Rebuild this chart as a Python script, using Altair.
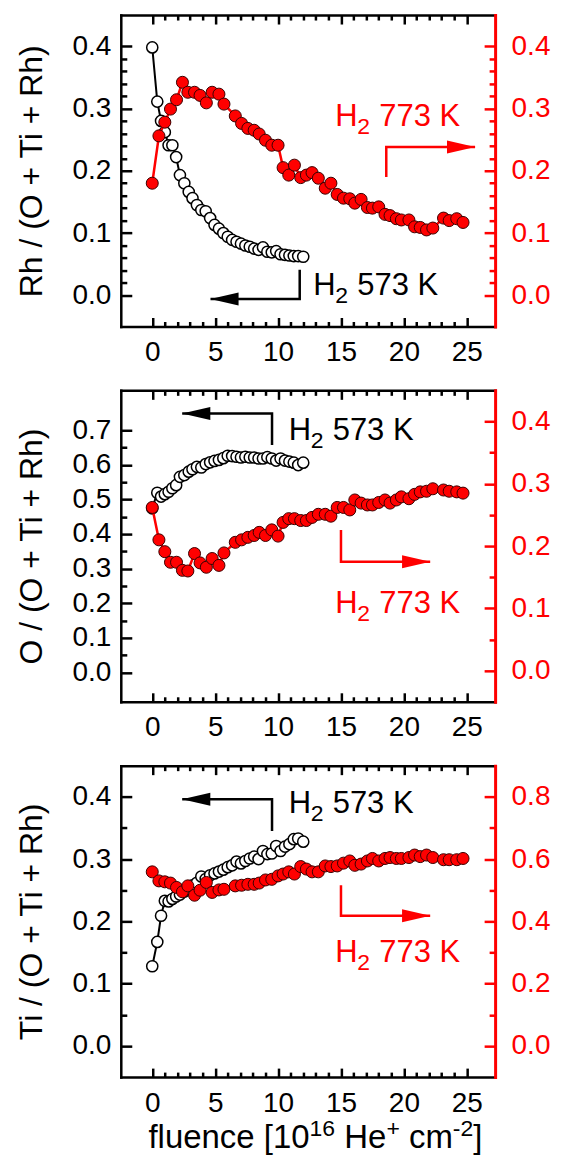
import altair as alt
import pandas as pd

# ---------------- data ----------------
fluence_573 = [0, 0.4, 0.7, 1.0, 1.3, 1.6, 1.9, 2.2, 2.55, 2.9, 3.2, 3.55, 3.9, 4.25,
               4.6, 4.95, 5.3, 5.65, 6.0, 6.35, 6.7, 7.05, 7.4, 7.75, 8.1, 8.45, 8.8,
               9.15, 9.5, 9.85, 10.2, 10.55, 10.9, 11.25, 11.6, 12.0]
rh_573 = [0.398, 0.311, 0.280, 0.262, 0.241, 0.241, 0.222, 0.193, 0.180, 0.166, 0.156,
          0.145, 0.137, 0.135, 0.124, 0.113, 0.107, 0.100, 0.094, 0.089, 0.086, 0.083,
          0.080, 0.078, 0.075, 0.073, 0.077, 0.070, 0.069, 0.071, 0.066, 0.065, 0.064,
          0.063, 0.063, 0.062]
o_573 = [0.474, 0.519, 0.508, 0.515, 0.522, 0.532, 0.541, 0.565, 0.570, 0.580, 0.587,
         0.594, 0.592, 0.602, 0.607, 0.611, 0.614, 0.619, 0.626, 0.625, 0.623, 0.621,
         0.623, 0.621, 0.621, 0.618, 0.618, 0.622, 0.618, 0.612, 0.618, 0.612, 0.609,
         0.606, 0.599, 0.606]
ti_573 = [0.128, 0.167, 0.209, 0.233, 0.232, 0.236, 0.240, 0.243, 0.248, 0.252, 0.258,
          0.262, 0.272, 0.268, 0.274, 0.277, 0.280, 0.283, 0.287, 0.290, 0.296, 0.293,
          0.297, 0.301, 0.304, 0.300, 0.313, 0.308, 0.309, 0.321, 0.313, 0.320, 0.324,
          0.332, 0.333, 0.328]

fluence_773 = [0, 0.53, 1.0, 1.45, 1.93, 2.4, 2.83, 3.36, 3.8, 4.3, 4.76, 5.3, 5.7, 6.6,
               7.1, 7.6, 8.1, 8.5, 9.0, 9.5, 10.0, 10.4, 10.85, 11.3, 11.8, 12.25, 12.7,
               13.2, 13.75, 14.2, 14.7, 15.2, 15.7, 16.1, 16.6, 17.1, 17.5, 18.0, 18.5,
               18.9, 19.4, 19.8, 20.4, 20.85, 21.3, 21.8, 22.3, 23.15, 23.6, 24.2, 24.7]
rh_773 = [0.180, 0.256, 0.278, 0.299, 0.314, 0.342, 0.326, 0.326, 0.321, 0.309, 0.326,
          0.323, 0.307, 0.288, 0.276, 0.268, 0.265, 0.259, 0.249, 0.241, 0.241, 0.205,
          0.193, 0.209, 0.189, 0.193, 0.197, 0.188, 0.172, 0.180, 0.162, 0.156, 0.155,
          0.148, 0.154, 0.141, 0.140, 0.142, 0.130, 0.128, 0.123, 0.121, 0.121, 0.110,
          0.109, 0.105, 0.108, 0.124, 0.120, 0.123, 0.117]
o_773 = [0.262, 0.210, 0.191, 0.174, 0.174, 0.161, 0.160, 0.188, 0.173, 0.166, 0.180,
         0.169, 0.189, 0.206, 0.210, 0.214, 0.217, 0.222, 0.217, 0.226, 0.216, 0.238,
         0.244, 0.244, 0.241, 0.241, 0.246, 0.251, 0.251, 0.248, 0.262, 0.262, 0.258,
         0.274, 0.269, 0.266, 0.266, 0.270, 0.274, 0.269, 0.274, 0.279, 0.276, 0.283,
         0.287, 0.288, 0.292, 0.290, 0.288, 0.287, 0.285]
ti_773 = [0.559, 0.530, 0.527, 0.523, 0.509, 0.495, 0.514, 0.484, 0.500, 0.525, 0.493,
          0.501, 0.503, 0.514, 0.516, 0.519, 0.519, 0.523, 0.533, 0.535, 0.546, 0.552,
          0.559, 0.552, 0.576, 0.568, 0.559, 0.559, 0.578, 0.576, 0.578, 0.587, 0.594,
          0.580, 0.584, 0.594, 0.602, 0.594, 0.602, 0.605, 0.602, 0.602, 0.605, 0.613,
          0.608, 0.613, 0.605, 0.598, 0.598, 0.598, 0.602]

y_titles = ["Rh / (O + Ti + Rh)", "O / (O + Ti + Rh)", "Ti / (O + Ti + Rh)"]
left_domains = [[-0.05, 0.45], [-0.085, 0.815], [-0.05, 0.45]]
right_domains = [[-0.05, 0.45], [-0.05, 0.45], [-0.1, 0.9]]
left_major = [[0, 0.1, 0.2, 0.3, 0.4], [0, 0.1, 0.2, 0.3, 0.4, 0.5, 0.6, 0.7], [0, 0.1, 0.2, 0.3, 0.4]]
left_step = [0.02, 0.05, 0.05]
right_major = [[0, 0.1, 0.2, 0.3, 0.4], [0, 0.1, 0.2, 0.3, 0.4], [0, 0.2, 0.4, 0.6, 0.8]]
right_step = [0.02, 0.05, 0.1]

x_major = [0, 5, 10, 15, 20, 25]
x_minor = [v for v in range(1, 25) if v % 5 != 0]

# annotation anchors (data coords on the left axis)
lbl573_x = [12.8, 10.85, 10.85]
lbl573_y = [0.0, 0.671, 0.374]
arr573_x = [[11.72, 11.72, 4.63], [9.52, 9.52, 2.38], [9.52, 9.52, 2.38]]
arr573_y = [[0.041, -0.006, -0.006], [0.657, 0.748, 0.748], [0.345, 0.396, 0.396]]
lbl773_x = [14.55, 14.55, 14.55]
lbl773_y = [0.2725, 0.171, 0.134]
arr773_x = [[18.6, 18.6, 25.66], [15.0, 15.0, 22.09], [15.0, 15.0, 22.09]]
arr773_y = [[0.190, 0.238, 0.238], [0.4115, 0.320, 0.320], [0.258, 0.209, 0.209]]

# x-axis title pieces: (text, is superscript, space before)
xtitle_parts = ["fluence [10", "16", "He", "+", "cm", "-2", "]"]
xtitle_super = [False, True, False, True, False, True, False]
xtitle_space = [False, False, True, False, True, False, False]

# ---------------- styling ----------------
W, H = 375, 312
XDOM = [-2.5, 27.25]
FONT = "Liberation Sans"
RED = "#ff0000"
LAB = 28
TIT = 32
ANN = 31
MAJ, MIN = 11, 6
XMAJ, XMIN = 9, 5
LW = 2.5


def minors(major, step):
    top = max(major)
    n = int(round(top / step))
    vals = [round(k * step, 4) for k in range(n + 1)]
    return [v for v in vals if all(abs(v - m) > 1e-6 for m in major)]


def sc(dom):
    return alt.Scale(domain=dom, nice=False, zero=False)


def X(axis=None):
    return alt.X("x:Q", scale=sc(XDOM), axis=axis, title=None)


def Y(dom, axis=None, title=None):
    return alt.Y("y:Q", scale=sc(dom), axis=axis, title=title)


def tick_axis(orient, values, size, color, offset, domain=False):
    return alt.Axis(orient=orient, offset=offset, values=values, ticks=True, tickSize=size,
                    tickWidth=2.5, tickColor=color, labels=False, domain=domain,
                    domainColor=color, domainWidth=LW, domainCap="square", grid=False, title=None)


arrow_right = "M-1,-0.46L1,0L-1,0.46Z"
arrow_left = "M1,-0.46L-1,0L1,0.46Z"


def h2_label(x, y, temp, color, dom):
    d = pd.DataFrame({"x": [x], "y": [y]})
    base = alt.Chart(d).encode(x=X(), y=Y(dom))
    return [
        base.mark_text(text="H", font=FONT, fontSize=ANN, align="left", baseline="alphabetic", color=color),
        base.mark_text(text="2", font=FONT, fontSize=23, align="left", baseline="alphabetic", color=color, dx=22, dy=8),
        base.mark_text(text=temp + " K", font=FONT, fontSize=ANN, align="left", baseline="alphabetic", color=color, dx=44),
    ]


def arrow(xs, ys, color, direction, dom):
    d = pd.DataFrame({"x": xs, "y": ys, "o": list(range(len(xs)))})
    stem = alt.Chart(d).mark_line(color=color, strokeWidth=LW).encode(x=X(), y=Y(dom), order="o:Q")
    tip = pd.DataFrame({"x": [xs[-1]], "y": [ys[-1]]})
    head = alt.Chart(tip).mark_point(
        shape=arrow_right if direction == "right" else arrow_left, filled=True, size=800,
        color=color, opacity=1, xOffset=-14 if direction == "right" else 14
    ).encode(x=X(), y=Y(dom))
    return [stem, head]


def x_title_layer():
    one = alt.Data(values=[{"a": 1}])
    big, small = 33, 23
    # advance widths of Liberation Sans (per em)
    adv = {"f": .278, "l": .222, "u": .556, "e": .556, "n": .556, "c": .5, " ": .278,
           "[": .278, "]": .278, "1": .556, "0": .556, "6": .556, "H": .722, "+": .584,
           "m": .833, "-": .333, "2": .556}
    widths, gaps = [], []
    for t, s, sp in zip(xtitle_parts, xtitle_super, xtitle_space):
        widths.append(sum(adv[ch] for ch in t) * (small if s else big))
        gaps.append(adv[" "] * big if sp else 0)
    total = sum(widths) + sum(gaps)
    px = 195 - total / 2
    out = []
    for t, s, w, g in zip(xtitle_parts, xtitle_super, widths, gaps):
        px += g
        out.append(alt.Chart(one).mark_text(text=t, font=FONT, fontSize=small if s else big,
                                            align="left", baseline="alphabetic", color="black",
                                            dy=-12 if s else 0)
                   .encode(x=alt.value(px), y=alt.value(H + 71)))
        px += w
    return alt.layer(*out)


def panel(i, y573, y773, with_xtitle=False):
    ld, rd = left_domains[i], right_domains[i]
    lmaj, rmaj = left_major[i], right_major[i]
    lmin, rmin = minors(lmaj, left_step[i]), minors(rmaj, right_step[i])
    df_b = pd.DataFrame({"x": fluence_573, "y": y573})
    df_r = pd.DataFrame({"x": fluence_773, "y": y773})

    left_axis = alt.Axis(orient="left", values=lmaj, format=".1f", ticks=False, domain=True,
                         domainColor="black", domainWidth=LW, domainCap="square",
                         labelPadding=10, labelFontSize=LAB, labelColor="black",
                         labelOverlap=False, titleFontSize=TIT, titleFontWeight="normal",
                         titleColor="black", titlePadding=24, grid=False)
    bottom_axis = alt.Axis(orient="bottom", values=x_major, format="d", ticks=False, domain=True,
                           domainColor="black", domainWidth=LW, domainCap="square",
                           labelPadding=12, labelFontSize=LAB, labelColor="black",
                           labelFlush=False, labelOverlap=False, grid=False, title=None)
    right_axis = alt.Axis(orient="right", values=rmaj, format=".1f", ticks=False, domain=True,
                          domainColor=RED, domainWidth=3, domainCap="square",
                          labelPadding=16, labelFontSize=LAB, labelColor=RED,
                          labelOverlap=False, grid=False, title=None)

    black = alt.Chart(df_b).mark_line(
        color="black", strokeWidth=2,
        point=alt.OverlayMarkDef(filled=True, fill="white", stroke="black", strokeWidth=1.5, size=125, opacity=1),
    ).encode(x=X(bottom_axis), y=Y(ld, left_axis, y_titles[i]))

    red = alt.Chart(df_r).mark_line(
        color=RED, strokeWidth=2.5,
        point=alt.OverlayMarkDef(filled=True, fill=RED, stroke="#3a0000", strokeWidth=1, size=145, opacity=1),
    ).encode(x=X(), y=Y(rd, right_axis))

    inv_l = alt.Chart(df_b).mark_point(opacity=0)
    inv_r = alt.Chart(df_r).mark_point(opacity=0)
    t1 = inv_l.encode(x=X(tick_axis("top", x_major, XMAJ, "black", -H)),
                      y=Y(ld, tick_axis("right", lmaj, MAJ, "black", -W)))
    t2 = inv_l.encode(x=X(tick_axis("top", x_minor, XMIN, "black", -H)),
                      y=Y(ld, tick_axis("right", lmin, MIN, "black", -W)))
    t3 = inv_r.encode(x=X(tick_axis("bottom", x_major, XMAJ, "black", -H, domain=True)),
                      y=Y(rd, tick_axis("left", rmaj, MAJ, RED, -W)))
    t4 = inv_r.encode(x=X(tick_axis("bottom", x_minor, XMIN, "black", -H)),
                      y=Y(rd, tick_axis("left", rmin, MIN, RED, -W)))

    ann = []
    ann += arrow(arr573_x[i], arr573_y[i], "black", "left", ld)
    ann += arrow(arr773_x[i], arr773_y[i], RED, "right", ld)
    ann += h2_label(lbl573_x[i], lbl573_y[i], "573", "black", ld)
    ann += h2_label(lbl773_x[i], lbl773_y[i], "773", RED, ld)
    annot = alt.layer(*ann)

    layers = [black, red, t1, t2, t3, t4, annot]
    if with_xtitle:
        layers.append(x_title_layer())

    return alt.layer(*layers).resolve_scale(x="independent", y="independent").properties(width=W, height=H)


p1 = panel(0, rh_573, rh_773)
p2 = panel(1, o_573, o_773)
p3 = panel(2, ti_573, ti_773, with_xtitle=True)

chart = alt.vconcat(p1, p2, p3, spacing=21).properties(
    padding={"left": 6, "top": 4, "right": 2, "bottom": 0}
).configure_view(stroke=None).configure_axis(
    labelFont=FONT, titleFont=FONT
).configure_text(font=FONT).configure(background="white")

chart.save("out.html", embed_options={"renderer": "svg", "actions": False})
